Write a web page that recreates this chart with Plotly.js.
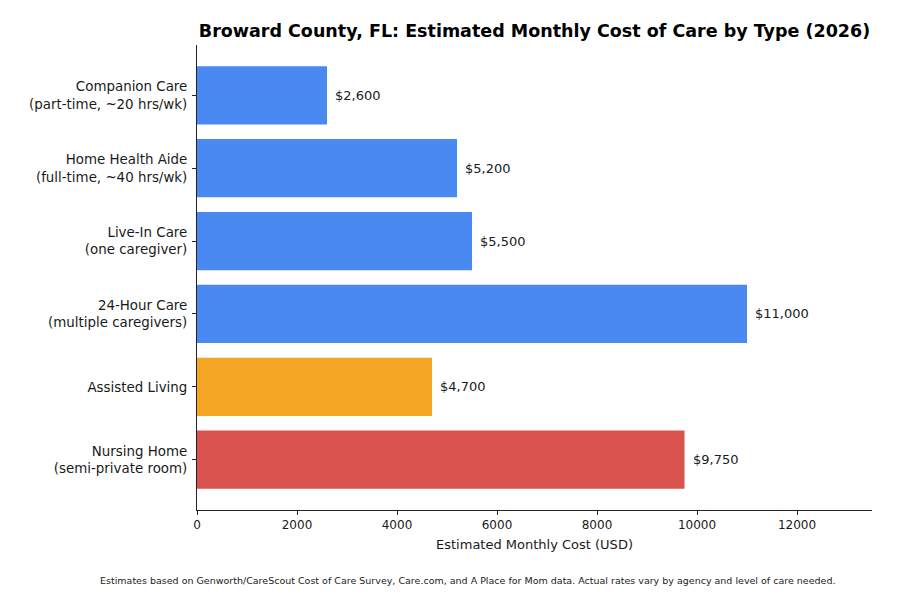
<!DOCTYPE html>
<html>
<head>
<meta charset="utf-8">
<script src="https://cdn.plot.ly/plotly-3.0.1.min.js"></script>
<style>
  html, body { margin: 0; padding: 0; background: #ffffff; }
  #chart { width: 900px; height: 600px; }
</style>
</head>
<body>
<div id="chart"></div>
<script>
// Care types, top to bottom
const careTypes = [
  "Companion Care<br>(part-time, ~20 hrs/wk)",
  "Home Health Aide<br>(full-time, ~40 hrs/wk)",
  "Live-In Care<br>(one caregiver)",
  "24-Hour Care<br>(multiple caregivers)",
  "Assisted Living",
  "Nursing Home<br>(semi-private room)"
];

// Estimated monthly cost in USD
const monthlyCost = [2600, 5200, 5500, 11000, 4700, 9750];

// Bar colours: in-home care, assisted living, nursing home
const barColors = ["#4a89f1", "#4a89f1", "#4a89f1", "#4a89f1", "#f4a624", "#d9534f"];

const xTicks = [0, 2000, 4000, 6000, 8000, 10000, 12000];

const fmt = v => "$" + v.toLocaleString("en-US");

const font = "DejaVu Sans, Verdana, sans-serif";

const trace = {
  type: "bar",
  orientation: "h",
  x: monthlyCost,
  y: careTypes.map((_, i) => i),
  marker: { color: barColors, line: { width: 0 } },
  width: 0.8,
  hoverinfo: "skip"
};

const valueLabels = monthlyCost.map((v, i) => ({
  x: v,
  y: i,
  xref: "x",
  yref: "y",
  text: fmt(v),
  showarrow: false,
  xanchor: "left",
  yanchor: "middle",
  xshift: 6,
  font: { family: font, size: 13, color: "#1a1a1a" }
}));

const layout = {
  width: 900,
  height: 600,
  paper_bgcolor: "#ffffff",
  plot_bgcolor: "#ffffff",
  margin: { l: 197, r: 28, t: 45, b: 90 },
  font: { family: font, color: "#1a1a1a" },
  showlegend: false,
  title: {
    text: "<b>Broward County, FL: Estimated Monthly Cost of Care by Type (2026)</b>",
    font: { family: font, size: 17.5, color: "#000000" },
    x: 0.5,
    xref: "paper",
    xanchor: "center",
    y: 1 - 31 / 600,
    yref: "container",
    yanchor: "middle"
  },
  xaxis: {
    range: [0, 13500],
    tickmode: "array",
    tickvals: xTicks,
    ticktext: xTicks.map(String),
    ticks: "outside",
    ticklen: 4,
    tickwidth: 1,
    tickcolor: "#222222",
    showline: true,
    linecolor: "#222222",
    linewidth: 1,
    showgrid: false,
    zeroline: false,
    tickfont: { family: font, size: 12, color: "#1a1a1a" },
    title: {
      text: "Estimated Monthly Cost (USD)",
      font: { family: font, size: 13, color: "#1a1a1a" },
      standoff: 8
    }
  },
  yaxis: {
    range: [5.69, -0.69],
    tickmode: "array",
    tickvals: careTypes.map((_, i) => i),
    ticktext: careTypes,
    ticks: "outside",
    ticklen: 4,
    tickwidth: 1,
    tickcolor: "#222222",
    showline: true,
    linecolor: "#222222",
    linewidth: 1,
    showgrid: false,
    zeroline: false,
    ticklabelstandoff: 2,
    tickfont: { family: font, size: 13.4, color: "#1a1a1a" }
  },
  annotations: valueLabels.concat([{
    text: "Estimates based on Genworth/CareScout Cost of Care Survey, Care.com, and A Place for Mom data. Actual rates vary by agency and level of care needed.",
    xref: "paper",
    yref: "paper",
    x: (467.5 - 197) / 675,
    y: -(580 - 510) / 465,
    xanchor: "center",
    yanchor: "middle",
    showarrow: false,
    font: { family: font, size: 9.5, color: "#222222" }
  }])
};

Plotly.newPlot("chart", [trace], layout, { displayModeBar: false, staticPlot: true });
</script>
</body>
</html>
